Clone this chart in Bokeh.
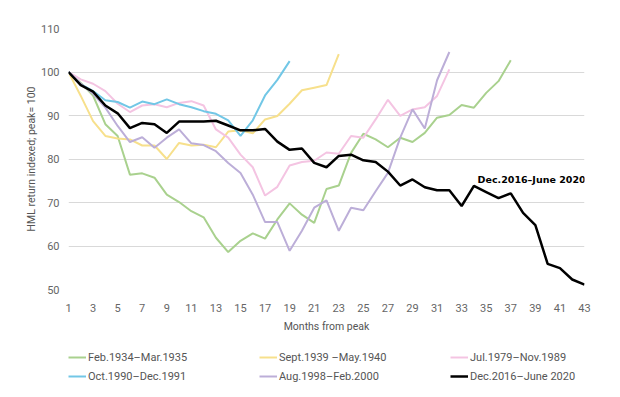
from bokeh.plotting import figure
from bokeh.models import Legend, LegendItem, Label, FixedTicker, Range1d
from bokeh.layouts import column
from bokeh.embed import file_html
from bokeh.resources import INLINE

months = list(range(1, 44))

feb1934 = [100, 97.5, 94.6, 88.0, 85.3, 76.4, 76.7, 75.7, 71.8, 70.1, 68.0, 66.6, 61.9, 58.6,
           61.2, 62.9, 61.7, 66.1, 69.8, 67.2, 65.3, 73.1, 73.9, 81.4, 85.8, 84.5, 82.7, 84.9,
           83.9, 86.0, 89.5, 90.1, 92.4, 91.8, 95.2, 97.9, 102.7]
sep1939 = [100, 94.5, 88.7, 85.3, 84.7, 84.5, 83.1, 83.1, 80.0, 83.7, 83.1, 83.3, 82.7, 86.3,
           86.6, 85.9, 89.1, 89.9, 92.7, 95.8, 96.4, 97.0, 104.1]
jul1979 = [100, 98.3, 97.3, 95.6, 92.7, 90.8, 92.3, 92.6, 91.9, 92.9, 93.3, 92.3, 86.8, 84.9,
           81.0, 78.1, 71.6, 73.6, 78.5, 79.3, 79.6, 81.5, 81.2, 85.3, 84.9, 89.1, 93.6, 89.9,
           91.4, 91.9, 94.5, 100.6]
oct1990 = [100, 97.2, 95.6, 93.5, 93.1, 91.8, 93.2, 92.6, 93.7, 92.6, 91.9, 91.0, 90.4, 88.9,
           85.3, 88.9, 94.6, 98.2, 102.5]
aug1998 = [100, 97.3, 95.0, 91.8, 87.6, 83.9, 85.0, 82.6, 84.9, 86.8, 83.6, 83.2, 81.8, 79.1,
           76.8, 71.8, 65.5, 65.5, 58.9, 63.5, 68.8, 70.5, 63.5, 68.8, 68.2, 72.6, 76.8, 84.9,
           91.4, 87.0, 98.1, 104.6]
dec2016 = [100, 97.0, 95.5, 92.3, 90.5, 87.1, 88.3, 88.0, 86.0, 88.6, 88.6, 88.6, 88.8, 87.7,
           86.6, 86.6, 86.9, 84.0, 82.1, 82.4, 79.1, 78.1, 80.7, 81.0, 79.7, 79.3, 77.1, 73.9,
           75.3, 73.5, 72.8, 72.8, 69.2, 73.8, 72.4, 71.0, 72.1, 67.6, 64.8, 55.9, 54.9, 52.3,
           51.1]

labels = ["Feb.1934\u2013Mar.1935", "Sept.1939 \u2013May.1940", "Jul.1979\u2013Nov.1989",
          "Oct.1990\u2013Dec.1991", "Aug.1998\u2013Feb.2000", "Dec.2016\u2013June 2020"]
y_ticks = [50, 60, 70, 80, 90, 100, 110]
x_ticks = list(range(1, 44, 2))

series = [feb1934, sep1939, jul1979, oct1990, aug1998, dec2016]
colors = ["#a9d18e", "#f7e08c", "#f4c4e2", "#72c7e6", "#bcaed8", "#000000"]
widths = [2, 2, 2, 2, 2, 2.5]

FONT = "Roboto"

p = figure(width=620, height=335, output_backend="svg", toolbar_location=None,
           x_range=Range1d(1, 43), y_range=Range1d(50, 110),
           min_border_left=68, min_border_right=36, min_border_top=28, min_border_bottom=5)
p.outline_line_color = None
p.background_fill_color = "white"
p.border_fill_color = "white"

for s, c, w in zip(series, colors, widths):
    p.line(months[:len(s)], s, line_color=c, line_width=w)

p.xgrid.visible = False
p.ygrid.grid_line_color = "#d9d9d9"
p.ygrid.grid_line_width = 1
p.yaxis.ticker = FixedTicker(ticks=y_ticks)
p.xaxis.ticker = FixedTicker(ticks=x_ticks)

for ax in (p.xaxis[0], p.yaxis[0]):
    ax.axis_line_color = None
    ax.major_tick_line_color = None
    ax.minor_tick_line_color = None
    ax.major_tick_out = 0
    ax.major_tick_in = 0
    ax.major_label_text_font = FONT
    ax.major_label_text_font_size = "11px"
    ax.major_label_text_color = "#666666"
    ax.axis_label_text_font = FONT
    ax.axis_label_text_font_size = "10.5px"
    ax.axis_label_text_color = "#555555"
    ax.axis_label_text_font_style = "normal"

p.xaxis.axis_label = "Months from peak"
p.xaxis.major_label_standoff = 14
p.xaxis.axis_label_standoff = 5
p.yaxis.axis_label = "HML return indexed; peak= 100"
p.yaxis.major_label_standoff = 9
p.yaxis.axis_label_standoff = 0

p.add_layout(Label(x=34.3, y=75.2, text=labels[5], text_font="DejaVu Sans",
                   text_font_style="bold", text_font_size="9.5px", text_baseline="middle",
                   text_color="#000000"))

# legend panel (same series, drawn outside its visible range, only the legend shows)
lf = figure(width=620, height=62, output_backend="svg", toolbar_location=None,
            x_range=Range1d(0, 1), y_range=Range1d(0, 1),
            min_border_left=0, min_border_right=0, min_border_top=0, min_border_bottom=0)
lf.outline_line_color = None
lf.axis.visible = False
lf.grid.visible = False
lrs = [lf.line(months[:len(s)], s, line_color=c, line_width=w)
       for s, c, w in zip(series, colors, widths)]
items = [LegendItem(label=l, renderers=[r]) for l, r in zip(labels, lrs)]
leg = Legend(items=items, orientation="horizontal", ncols=3, location=(0, 13))
leg.margin = 0
leg.border_line_color = None
leg.background_fill_alpha = 0
leg.padding = 0
leg.spacing = 3
leg.glyph_width = 18
leg.glyph_height = 16
leg.label_height = 16
leg.label_width = 168
leg.label_standoff = 2
leg.label_text_font = FONT
leg.label_text_font_size = "11px"
leg.label_text_color = "#555555"
lf.add_layout(leg, "center")

layout = column(p, lf, spacing=0)
open("out.html", "w").write(file_html(layout, INLINE))
